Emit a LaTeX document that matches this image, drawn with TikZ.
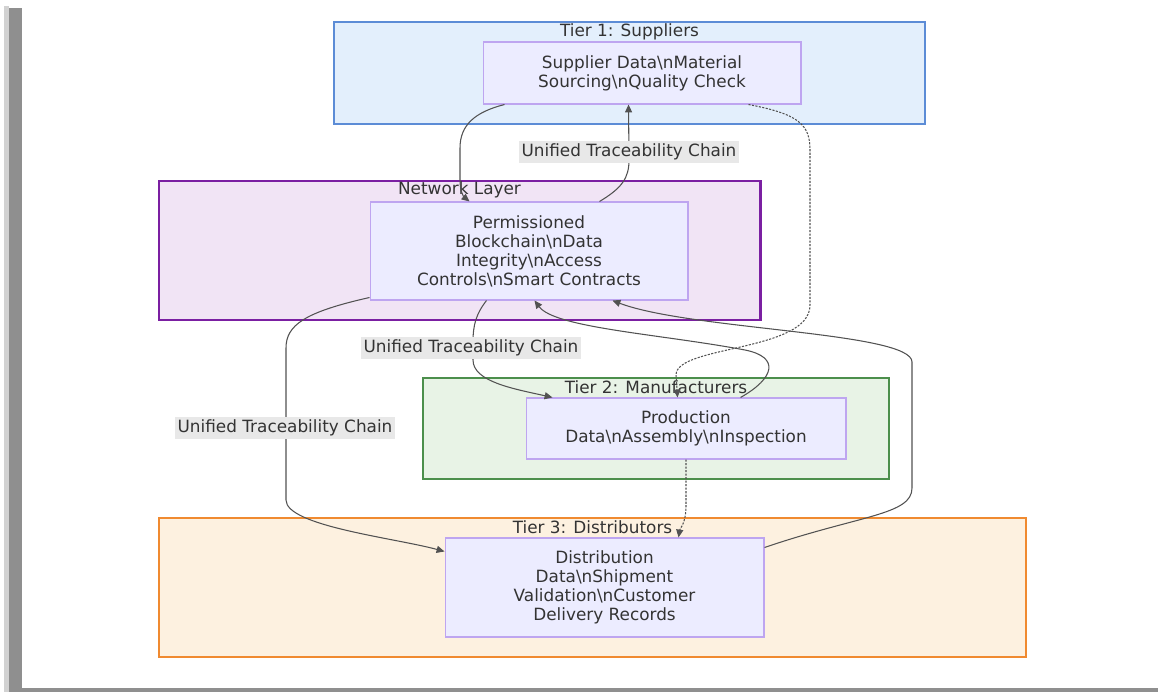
\documentclass[tikz,border=0pt]{standalone}
\usepackage{fontspec}
\setmainfont{DejaVu Sans}
\usetikzlibrary{arrows.meta}

\definecolor{tAline}{RGB}{92,140,214}
\definecolor{tAfill}{RGB}{227,239,252}
\definecolor{netLine}{RGB}{123,31,162}
\definecolor{netFill}{RGB}{241,228,245}
\definecolor{tBline}{RGB}{76,143,76}
\definecolor{tBfill}{RGB}{232,243,230}
\definecolor{tCline}{RGB}{240,138,48}
\definecolor{tCfill}{RGB}{253,241,224}
\definecolor{dataFill}{RGB}{236,236,255}
\definecolor{dataLine}{RGB}{190,165,240}
\definecolor{labelFill}{RGB}{232,232,232}
\definecolor{inkGray}{RGB}{51,51,51}
\definecolor{shadowGray}{RGB}{143,143,143}

\begin{document}
\begin{tikzpicture}
[x=0.02cm,y=-0.02cm,
  tierBox/.style={shape=rectangle,inner sep=0pt},%
  tierTitle/.style={text=inkGray,font=\fontsize{9.6}{11}\selectfont,inner sep=0pt},%
  dataNode/.style={shape=rectangle,draw=dataLine,fill=dataFill,line width=0.6pt,
    text=inkGray,align=center,font=\fontsize{9.6}{10.8}\selectfont},%
  chainLabel/.style={fill=labelFill,text=inkGray,inner sep=1.6pt,
    font=\fontsize{9.6}{11}\selectfont},%
  solidArrow/.style={draw=inkGray!85,line width=0.6pt,-{Triangle[length=4.5pt,width=4pt]}},%
  dotArrow/.style={solidArrow,dash pattern=on 1.2pt off 0.8pt}]
%% page and shadow
\fill[white] (0,0) rectangle (1158,692);
\fill[shadowGray!40] (4,6) rectangle (9,692);
\fill[shadowGray] (9,8) rectangle (22,692);
\fill[shadowGray] (9,688) rectangle (1158,692);
%% tier boxes and their titles
\foreach \name/\x/\y/\w/\h/\lc/\fc/\lw/\ty/\title in {
  tierA/629.5/73/591/102/tAline/tAfill/1.1pt/32/{Tier 1: Suppliers},
  net/459.5/250.5/601/139/netLine/netFill/1.7pt/190/{Network Layer},
  tierB/656/428.5/466/101/tBline/tBfill/1.2pt/387/{Tier 2: Manufacturers},
  tierC/592.5/587.5/867/139/tCline/tCfill/1.1pt/527/{Tier 3: Distributors}}
{
  \node (\name) at (\x,\y) [tierBox,draw=\lc,fill=\fc,line width=\lw,
    minimum width=\w*0.02cm,minimum height=\h*0.02cm] {};
  \node (\name T) at (\x,\ty) [tierTitle] {\title};
}
%% data nodes
\node (sup) at (642,73) [dataNode,minimum width=6.36cm,minimum height=1.24cm]
  {Supplier Data\textbackslash nMaterial\\Sourcing\textbackslash nQuality Check};
\node (chain) at (529,251) [dataNode,minimum width=6.36cm,minimum height=1.96cm]
  {Permissioned\\Blockchain\textbackslash nData\\Integrity\textbackslash nAccess\\Controls\textbackslash nSmart Contracts};
\node (prod) at (686,428.5) [dataNode,minimum width=6.4cm,minimum height=1.22cm]
  {Production\\Data\textbackslash nAssembly\textbackslash nInspection};
\node (dist) at (604.5,587.5) [dataNode,minimum width=6.38cm,minimum height=1.98cm]
  {Distribution\\Data\textbackslash nShipment\\Validation\textbackslash nCustomer\\Delivery Records};
%% solid edges
\draw[solidArrow] ([shift={(22,0)}]sup.south west) .. controls (475,112) and (460,125) .. (460,148)
  -- (460,180) .. controls (460,192) and (464,197) .. ([shift={(100,0)}]chain.north west);
\draw[solidArrow] ([shift={(230,0)}]chain.north west) .. controls (622,188) and (629,178) .. (629,160)
  -- ([shift={(146,0)}]sup.south west);
\draw[solidArrow] ([shift={(117,0)}]chain.south west) .. controls (476,314) and (473,325) .. (473,342)
  -- (473,360) .. controls (473,382) and (515,389) .. ([shift={(27,0)}]prod.north west);
\draw[solidArrow] ([shift={(215,0)}]prod.north west) .. controls (775,378) and (780,357) .. (745,350)
  .. controls (660,334) and (555,328) .. ([shift={(165,0)}]chain.south west);
\draw[solidArrow] ([shift={(0,-3)}]chain.south west) .. controls (305,312) and (286,325) .. (286,348)
  -- (286,500) .. controls (286,526) and (395,538) .. ([shift={(0,14)}]dist.north west);
\draw[solidArrow] ([shift={(0,10)}]dist.north east) .. controls (860,515) and (912,515) .. (912,488)
  -- (912,362) .. controls (912,332) and (690,330) .. ([shift={(-76,0)}]chain.south east);
%% dotted edges
\draw[dotArrow] ([shift={(-53,0)}]sup.south east) .. controls (798,114) and (810,124) .. (810,150)
  -- (810,305) .. controls (810,352) and (676,345) .. (676,375) -- ([shift={(152,0)}]prod.north west);
\draw[dotArrow] (prod.south) -- (686,505) .. controls (686,524) and (680,528) .. ([shift={(74,0)}]dist.north);
%% edge labels
\foreach \lname/\x/\y in {labA/629/152, labB/471/348, labC/285/428}
{
  \node (\lname) at (\x,\y) [chainLabel] {Unified Traceability Chain};
}
\end{tikzpicture}
\end{document}
